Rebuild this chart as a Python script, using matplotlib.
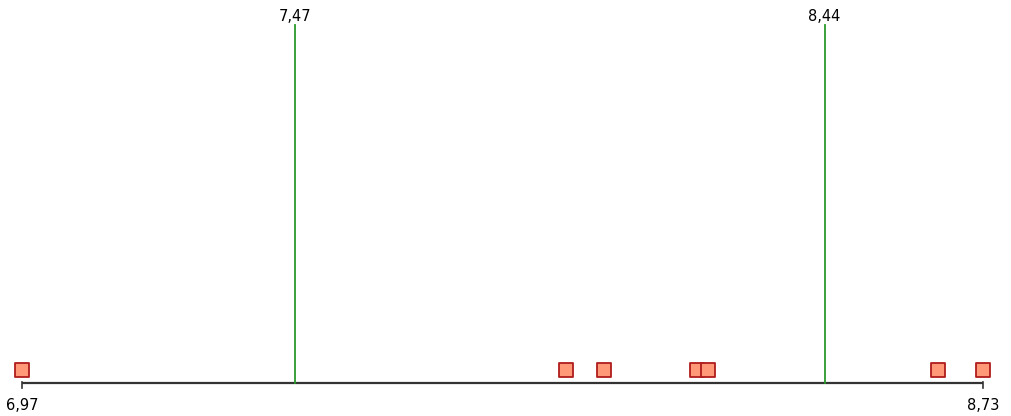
import matplotlib
matplotlib.use("Agg")
import matplotlib.pyplot as plt

# axis range and reference lines
x_min, x_max = 6.97, 8.73
ref_values = [7.47, 8.44]
# observed points
points = [6.97, 7.966, 8.036, 8.206, 8.227, 8.648, 8.73]


def fmt(v):
    return f"{v:.2f}".replace(".", ",")


def main():
    fig = plt.figure(figsize=(10.11, 4.16), dpi=100)
    ax = fig.add_axes([0, 0, 1, 1])

    # pixel layout: axis line 22px..983px wide
    scale = (983 - 22) / (x_max - x_min)
    ax.set_xlim(x_min - 22 / scale, x_min + (1011 - 22) / scale)
    ax.set_ylim(0, 416)
    ax.axis("off")

    base_y = 33
    tick = 5

    ax.plot([x_min, x_max], [base_y, base_y], color="#333333", lw=1.6,
            solid_capstyle="butt")
    for v in (x_min, x_max):
        ax.plot([v, v], [base_y + 1, base_y - tick], color="#333333", lw=1.2)
        ax.text(v, base_y - 15, fmt(v), ha="center", va="top", fontsize=10.5,
                color="black")

    for v in ref_values:
        ax.plot([v, v], [base_y, 391], color="#2a9a2a", lw=1.3)
        ax.text(v, 392, fmt(v), ha="center", va="bottom", fontsize=10.5,
                color="black")

    ax.scatter(points, [base_y + 13] * len(points), marker="s", s=95,
               facecolor="#ff9977", edgecolor="#b01c1c", linewidth=1.3,
               zorder=3)

    fig.savefig("out.png", dpi=100)
    plt.close(fig)


if __name__ == "__main__":
    main()
